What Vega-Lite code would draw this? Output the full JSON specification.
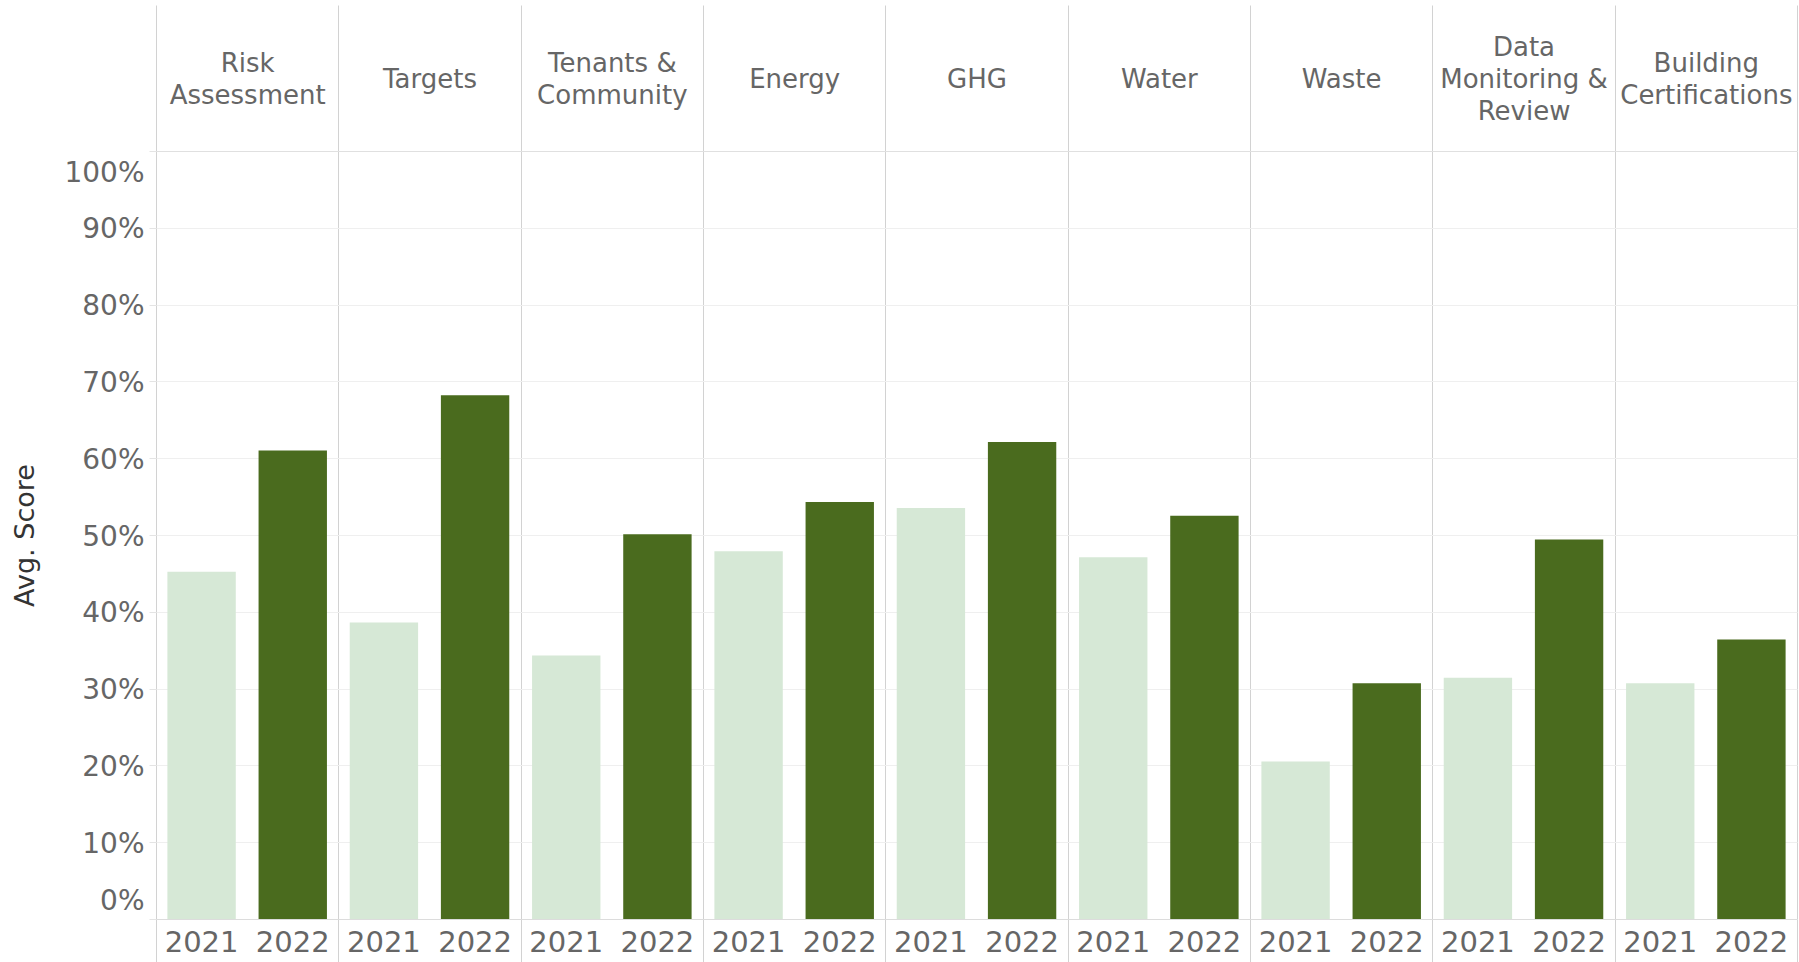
{
  "$schema": "https://vega.github.io/schema/vega-lite/v6.json",
  "autosize": {"type": "none"},
  "padding": {"left": 156, "top": 151, "right": 2, "bottom": 43},
  "width": 1641,
  "height": 768,
  "background": "#ffffff",
  "config": {
    "view": {"stroke": null},
    "font": "DejaVu Sans"
  },
  "data": {
    "values": [
      {"category": "Risk Assessment", "year": "2021", "score": 0.452},
      {"category": "Risk Assessment", "year": "2022", "score": 0.610},
      {"category": "Targets", "year": "2021", "score": 0.386},
      {"category": "Targets", "year": "2022", "score": 0.682},
      {"category": "Tenants & Community", "year": "2021", "score": 0.343},
      {"category": "Tenants & Community", "year": "2022", "score": 0.501},
      {"category": "Energy", "year": "2021", "score": 0.479},
      {"category": "Energy", "year": "2022", "score": 0.543},
      {"category": "GHG", "year": "2021", "score": 0.535},
      {"category": "GHG", "year": "2022", "score": 0.621},
      {"category": "Water", "year": "2021", "score": 0.471},
      {"category": "Water", "year": "2022", "score": 0.525},
      {"category": "Waste", "year": "2021", "score": 0.205},
      {"category": "Waste", "year": "2022", "score": 0.307},
      {"category": "Data Monitoring & Review", "year": "2021", "score": 0.314},
      {"category": "Data Monitoring & Review", "year": "2022", "score": 0.494},
      {"category": "Building Certifications", "year": "2021", "score": 0.307},
      {"category": "Building Certifications", "year": "2022", "score": 0.364}
    ]
  },
  "layer": [
    {
      "mark": {"type": "bar"},
      "encoding": {
        "x": {
          "field": "category",
          "type": "nominal",
          "sort": null,
          "scale": {"paddingInner": 0, "paddingOuter": 0},
          "axis": {
            "orient": "top",
            "title": null,
            "tickBand": "extent",
            "ticks": true,
            "tickSize": 146,
            "tickColor": "#d2d2d2",
            "grid": true,
            "gridColor": "#d2d2d2",
            "domain": true,
            "domainColor": "#e0e0e0",
            "labelPadding": -58,
            "labelBaseline": {
              "condition": {
                "test": "datum.value == 'Risk Assessment' || datum.value == 'Tenants & Community' || datum.value == 'Building Certifications'",
                "value": "middle"
              },
              "value": "line-bottom"
            },
            "labelAngle": 0,
            "labelFontSize": 26,
            "labelColor": "#666666",
            "labelFont": "DejaVu Sans",
            "labelLimit": 400,
            "labelOverlap": false,
            "labelLineHeight": 32,
            "labelExpr": "datum.value == 'Risk Assessment' ? ['Risk','Assessment'] : datum.value == 'Tenants & Community' ? ['Tenants &','Community'] : datum.value == 'Data Monitoring & Review' ? ['Data','Monitoring &','Review'] : datum.value == 'Building Certifications' ? ['Building','Certifications'] : ['', datum.value]"
          }
        },
        "xOffset": {
          "field": "year",
          "type": "nominal",
          "scale": {"paddingInner": 0.25, "paddingOuter": 0.125}
        },
        "y": {
          "field": "score",
          "type": "quantitative",
          "scale": {"domain": [0, 1], "nice": false},
          "axis": {
            "title": "Avg. Score",
            "format": ".0%",
            "values": [0, 0.1, 0.2, 0.3, 0.4, 0.5, 0.6, 0.7, 0.8, 0.9, 1],
            "grid": true,
            "gridColor": "#efefef",
            "domain": false,
            "ticks": true,
            "tickSize": 7,
            "tickColor": "#e4e4e4",
            "labelPadding": 5,
            "labelOffset": 2,
            "labelFontSize": 28,
            "labelColor": "#666666",
            "labelFont": "DejaVu Sans",
            "labelFlush": true,
            "labelFlushOffset": -6,
            "titleFontSize": 27,
            "titleColor": "#333333",
            "titleFont": "DejaVu Sans",
            "titleFontWeight": "normal",
            "titlePadding": 24
          }
        },
        "color": {
          "field": "year",
          "type": "nominal",
          "scale": {"domain": ["2021", "2022"], "range": ["#d6e8d6", "#4a6b1e"]},
          "legend": null
        }
      }
    },
    {
      "mark": {"type": "text", "dy": 24, "fontSize": 29, "color": "#666666", "font": "DejaVu Sans", "baseline": "middle", "align": "center"},
      "encoding": {
        "x": {
          "field": "category",
          "type": "nominal",
          "sort": null,
          "axis": {
            "orient": "bottom",
            "title": null,
            "labels": false,
            "tickBand": "extent",
            "ticks": true,
            "tickSize": 43,
            "tickColor": "#d2d2d2",
            "grid": false,
            "domain": true,
            "domainColor": "#dcdcdc"
          }
        },
        "xOffset": {"field": "year", "type": "nominal"},
        "y": {"datum": 0, "type": "quantitative"},
        "text": {"field": "year", "type": "nominal"}
      }
    }
  ],
  "resolve": {"axis": {"x": "independent"}}
}
